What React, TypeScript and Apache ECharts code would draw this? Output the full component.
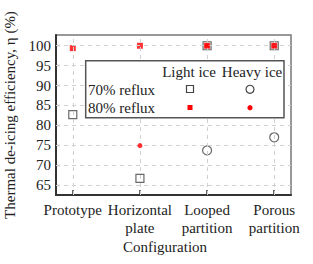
import React, { useEffect, useRef } from "react";
import * as echarts from "echarts";

const categories = ["Prototype", "Horizontal\nplate", "Looped\npartition", "Porous\npartition"];
const catIdx = [0, 1, 2, 3];
const yTicks = [65, 70, 75, 80, 85, 90, 95, 100];
const light70 = [82.7, 66.7, 100, 100];
const light80 = [99.4, 100, 100, 100];
const heavy70: (number | null)[] = [null, null, 73.7, 77.0];
const heavy80: (number | null)[] = [null, 74.9, 100, 100];

const FONT = "Liberation Serif, Times New Roman, serif";
const TXT = "#222";

function pts(arr: (number | null)[]) {
  const out: [number, number][] = [];
  arr.forEach((v, i) => {
    if (v !== null) out.push([i, v]);
  });
  return out;
}

export default function App() {
  const ref = useRef<HTMLDivElement>(null);
  useEffect(() => {
    if (!ref.current) return;
    const chart = echarts.init(ref.current, null, { renderer: "svg" });
    const openStyle = { color: "#fff", borderColor: "#444", borderWidth: 1.2 };
    const gridLine = { color: "#d0d0d0", type: [4, 4], width: 1 };
    const txt = (text: string, x: number, y: number, align: string) => ({
      type: "text",
      x,
      y,
      z: 101,
      style: { text, fontFamily: FONT, fontSize: 15, fill: TXT, align, verticalAlign: "middle" },
    });
    chart.setOption({
      animation: false,
      grid: {
        left: 56, right: 22, top: 35, bottom: 69,
        show: true, borderColor: "#777", borderWidth: 1.5, backgroundColor: "transparent",
        containLabel: false, outerBoundsMode: "none",
      },
      xAxis: {
        type: "value",
        min: -0.25,
        max: 3.25,
        axisLine: { show: true, onZero: false, lineStyle: { color: "#333", width: 2 } },
        axisTick: { show: true, inside: true, length: 5, customValues: catIdx, lineStyle: { color: "#333", width: 1.5 } },
        splitLine: { show: false },
        axisLabel: {
          customValues: catIdx,
          formatter: (v: number) => categories[Math.round(v)] ?? "",
          fontFamily: FONT,
          fontSize: 15,
          color: TXT,
          lineHeight: 18,
          margin: 6,
        },
      },
      yAxis: {
        type: "value",
        min: 62.5,
        max: 102.7,
        name: "Thermal de-icing efficiency, η (%)",
        nameLocation: "middle",
        nameGap: 33,
        nameTextStyle: { fontFamily: FONT, fontSize: 15, color: TXT },
        axisLine: { show: true, onZero: false, lineStyle: { color: "#333", width: 2 } },
        axisTick: { show: true, inside: true, length: 4, customValues: yTicks, lineStyle: { color: "#444", width: 1.2 } },
        splitLine: { show: false },
        axisLabel: { customValues: yTicks, fontFamily: FONT, fontSize: 15, color: TXT, margin: 5 },
      },
      graphic: [
        {
          type: "text",
          x: 165,
          y: 247,
          z: 101,
          style: { text: "Configuration", fontFamily: FONT, fontSize: 15, fill: TXT, align: "center", verticalAlign: "middle" },
        },
        { type: "rect", z: 100, shape: { x: 85.7, y: 60.7, width: 198.3, height: 57 }, style: { fill: "#fff", stroke: "#555", lineWidth: 1.5 } },
        txt("Light ice", 189, 71.5, "center"),
        txt("Heavy ice", 252, 71.5, "center"),
        txt("70% reflux", 88, 89.5, "left"),
        txt("80% reflux", 88, 108, "left"),
        { type: "rect", z: 101, shape: { x: 186.5, y: 85.5, width: 7, height: 7 }, style: { fill: "#fff", stroke: "#444", lineWidth: 1.2 } },
        { type: "circle", z: 101, shape: { cx: 250, cy: 89.3, r: 4 }, style: { fill: "#fff", stroke: "#444", lineWidth: 1.2 } },
        { type: "rect", z: 101, shape: { x: 187.5, y: 105, width: 5, height: 5 }, style: { fill: "#ff0000" } },
        { type: "circle", z: 101, shape: { cx: 250, cy: 107.7, r: 2.6 }, style: { fill: "#ff0000" } },
      ],
      series: [
        {
          name: "grid",
          type: "scatter",
          data: [],
          z: 0,
          markLine: {
            silent: true,
            symbol: "none",
            label: { show: false },
            lineStyle: gridLine,
            data: [...catIdx.map((v) => ({ xAxis: v })), ...yTicks.map((v) => ({ yAxis: v }))],
          },
        },
        { name: "70% light", type: "scatter", symbol: "rect", symbolSize: 8, itemStyle: openStyle, data: pts(light70), z: 3 },
        { name: "70% heavy", type: "scatter", symbol: "circle", symbolSize: 9, itemStyle: openStyle, data: pts(heavy70), z: 3 },
        { name: "80% light", type: "scatter", symbol: "rect", symbolSize: 6, itemStyle: { color: "#ff0000" }, data: pts(light80), z: 4 },
        { name: "80% heavy", type: "scatter", symbol: "circle", symbolSize: 5, itemStyle: { color: "#ff0000" }, data: pts(heavy80), z: 5 },
      ],
    });
    return () => chart.dispose();
  }, []);
  return <div ref={ref} style={{ width: 313, height: 264, position: "absolute", left: 0, top: 0, background: "#fff" }} />;
}
